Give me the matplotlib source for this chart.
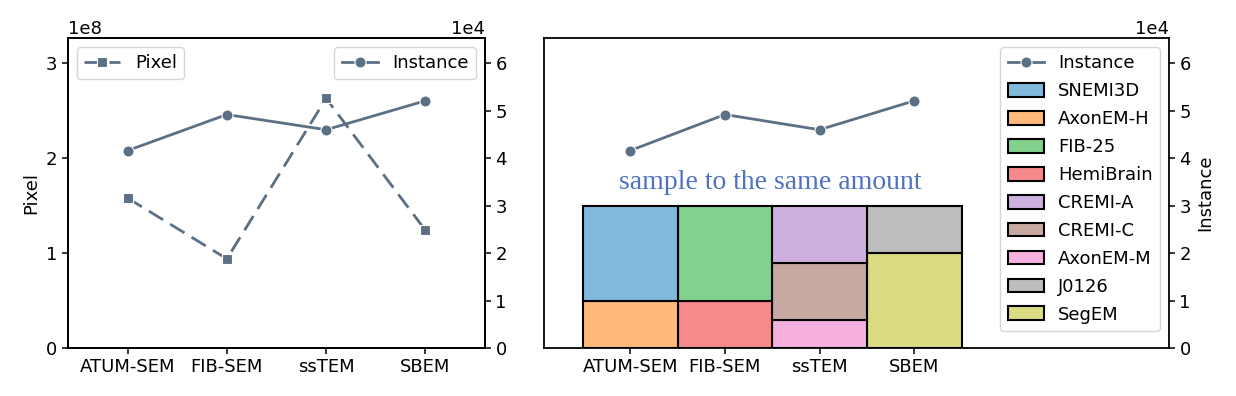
import numpy as np
import matplotlib
matplotlib.use("Agg")
import matplotlib.pyplot as plt

# data
modalities = ["ATUM-SEM", "FIB-SEM", "ssTEM", "SBEM"]
pixel = [1.58e8, 0.94e8, 2.63e8, 1.24e8]
instance = [4.16e4, 4.92e4, 4.60e4, 5.21e4]

datasets = ["SNEMI3D", "AxonEM-H", "FIB-25", "HemiBrain", "CREMI-A",
            "CREMI-C", "AxonEM-M", "J0126", "SegEM"]
dataset_modality = [0, 0, 1, 1, 2, 2, 2, 3, 3]
dataset_amount = [2.0e4, 1.0e4, 2.0e4, 1.0e4, 1.2e4, 1.2e4, 0.6e4, 1.0e4, 2.0e4]

# light tab10-like colours as they appear in the picture
bar_colors = ["#80b9dc", "#ffb97a", "#82d18c", "#f7898c", "#cdb0e0",
              "#c8a9a1", "#f7b1e0", "#bdbdbd", "#dbdb84"]
line_color = "#5b7085"
fs = 13

plt.rcParams["font.family"] = "DejaVu Sans"
plt.rcParams["font.size"] = fs

fig = plt.figure(figsize=(12.36, 3.96), dpi=100)
W, H = 1236, 396
ax1 = fig.add_axes([68 / W, 1 - 348 / H, 417 / W, 310 / H])
ax2 = fig.add_axes([544 / W, 1 - 348 / H, 625 / W, 310 / H])

x = np.arange(len(modalities))

# ---- left panel: pixel + instance
ax1b = ax1.twinx()
ax1.plot(x, pixel, ls="--", dashes=(6, 3), marker="s", color=line_color, lw=2,
         ms=7.5, mec="white", mew=0.8, label="Pixel")
ax1b.plot(x, instance, ls="-", marker="o", color=line_color, lw=2, ms=8,
          mec="white", mew=0.8, label="Instance")
ax1.set_xlim(-0.6, 3.6)
ax1.set_ylim(0, 3.267e8)
ax1b.set_ylim(0, 6.533e4)
ax1.set_yticks([0, 1e8, 2e8, 3e8])
ax1b.set_yticks(np.arange(0, 7) * 1e4)
ax1.set_xticks(x)
ax1.set_xticklabels(modalities)
ax1.set_ylabel("Pixel")
ax1.ticklabel_format(axis="y", style="sci", scilimits=(0, 0))
ax1b.ticklabel_format(axis="y", style="sci", scilimits=(0, 0))
ax1.legend(loc="upper left", fontsize=fs)
ax1b.legend(loc="upper right", fontsize=fs)

# ---- right panel: stacked sampled datasets + instance
bottoms = np.zeros(len(modalities))
bar_handles = [None] * len(datasets)
for i in reversed(range(len(datasets))):
    m = dataset_modality[i]
    h = ax2.bar(m, dataset_amount[i], width=1.0, bottom=bottoms[m],
                facecolor=bar_colors[i], edgecolor="black", lw=1.5,
                label=datasets[i])
    bottoms[m] += dataset_amount[i]
    bar_handles[i] = h
ln, = ax2.plot(x, instance, ls="-", marker="o", color=line_color, lw=2,
               ms=8, mec="white", mew=0.8, label="Instance")
ax2.text(1.48, 3.22e4, "sample to the same amount", ha="center", va="bottom",
         fontsize=20, color="#4f72be", family="Liberation Serif")
ax2.set_xlim(-0.91, 5.69)
ax2.set_ylim(0, 6.533e4)
ax2.set_xticks(x)
ax2.set_xticklabels(modalities)
ax2.yaxis.tick_right()
ax2.yaxis.set_label_position("right")
ax2.set_yticks(np.arange(0, 7) * 1e4)
ax2.ticklabel_format(axis="y", style="sci", scilimits=(0, 0))
ax2.yaxis.set_offset_position("right")
ax2.set_ylabel("Instance")
ax2.legend([ln] + bar_handles, ["Instance"] + datasets, loc="upper right",
           fontsize=fs, labelspacing=0.55, handleheight=0.8,
           borderaxespad=0.5)

for a in [ax1, ax1b, ax2]:
    for s in a.spines.values():
        s.set_linewidth(1.3)
    a.tick_params(width=1.1, length=4)

fig.savefig("out.png", dpi=100)
